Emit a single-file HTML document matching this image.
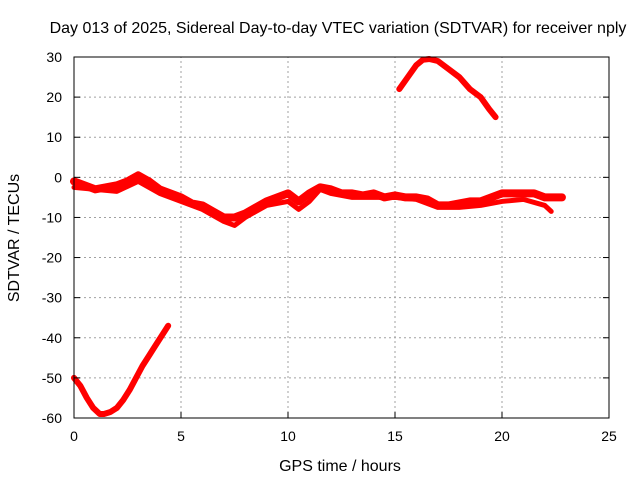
<!DOCTYPE html>
<html><head><meta charset="utf-8"><style>
body{margin:0;background:#fff}
svg text{font-family:"Liberation Sans",sans-serif;font-size:14px;fill:#000}
svg text.big{font-size:16px}
</style></head><body>
<svg id="chart" width="640" height="480" xmlns="http://www.w3.org/2000/svg">
<rect width="640" height="480" fill="#fff"/>
<g id="grid"></g><g id="series"></g><g id="axes"></g>
<text class="big" x="338" y="33" text-anchor="middle">Day 013 of 2025, Sidereal Day-to-day VTEC variation (SDTVAR) for receiver nply</text>
<text class="big" x="340" y="471" text-anchor="middle">GPS time / hours</text>
<text class="big" transform="translate(19,238) rotate(-90)" text-anchor="middle">SDTVAR / TECUs</text>
</svg>
<script>
const xTicks=[0,5,10,15,20,25];
const yTicks=[30,20,10,0,-10,-20,-30,-40,-50,-60];
const lowX=[0,0.3,0.6,0.9,1.2,1.4,1.7,2.0,2.3,2.6,2.9,3.2,3.5,3.8,4.1,4.4];
const lowY=[-50,-52,-55,-57.5,-59,-59,-58.5,-57.5,-55.5,-53,-50,-47,-44.5,-42,-39.5,-37];
const highX=[15.2,15.6,16,16.3,16.6,17,17.5,18,18.5,19,19.4,19.7];
const highY=[22,25,28,29.3,29.5,29,27,25,22,20,17,15];
const bandX=[0,0.5,1,1.5,2,2.5,3,3.5,4,4.5,5,5.5,6,6.5,7,7.5,8,8.5,9,9.5,10,10.5,11,11.5,12,12.5,13,13.5,14,14.5,15,15.5,16,16.5,17,17.5,18,18.5,19,19.5,20,20.5,21,21.5,22,22.5,22.8];
const bandY=[-1,-2,-3,-2.5,-2,-1,0.5,-1,-3,-4,-5,-6.5,-7,-8.5,-10,-10,-9,-7.5,-6,-5,-4,-6,-4,-2.5,-3,-4,-4,-4.5,-4,-5,-4.5,-5,-5,-5.5,-7,-7,-6.5,-6,-6,-5,-4,-4,-4,-4,-5,-5,-5];
const band2X=[0,1,2,3,4,5,6,7,7.5,8,9,10,10.5,11,11.5,12,13,14,15,16,17,18,19,20,21,22,22.3];
const band2Y=[-2.5,-3,-3.5,-1,-4,-6,-8,-11,-12,-10,-7,-6,-8,-6,-3,-4,-5,-5,-5,-5.5,-7.5,-7.5,-7,-6,-5.5,-7,-8.5];
const X0=74,X1=609,Y0=418,Y1=57;
const xs=v=>X0+(v/25)*(X1-X0);
const ys=v=>Y0-((v+60)/90)*(Y0-Y1);
const NS="http://www.w3.org/2000/svg";
function mk(t,a,p){const e=document.createElementNS(NS,t);for(const k in a)e.setAttribute(k,a[k]);p.appendChild(e);return e;}
const grid=document.getElementById('grid'),axes=document.getElementById('axes'),ser=document.getElementById('series');
xTicks.forEach(t=>{const x=xs(t);
 if(t>0&&t<25){const g=mk('line',{x1:x,x2:x,y1:Y0,y2:Y1,stroke:'#a0a0a0','stroke-dasharray':'2,3'},grid);
 
 }
 mk('line',{x1:x,x2:x,y1:Y0,y2:Y0-6,stroke:'#000'},axes);
 const l=mk('text',{x:x,y:Y0+23,'text-anchor':'middle'},axes);l.textContent=t;
 
 });
yTicks.forEach(t=>{const y=ys(t);
 if(t>-60&&t<30){const g=mk('line',{x1:X0,x2:X1,y1:y,y2:y,stroke:'#a0a0a0','stroke-dasharray':'2,3'},grid);
 
 }
 mk('line',{x1:X0,x2:X0+6,y1:y,y2:y,stroke:'#000'},axes);
 mk('line',{x1:X1,x2:X1-6,y1:y,y2:y,stroke:'#000'},axes);
 const l=mk('text',{x:X0-12,y:y+5,'text-anchor':'end'},axes);l.textContent=t;
 
 });
const fr=mk('rect',{x:X0,y:Y1,width:X1-X0,height:Y0-Y1,fill:'none',stroke:'#000'},axes);


function series(X,Y,name,w){
 const pts=X.map((x,i)=>xs(x)+','+ys(Y[i])).join(' ');
 const p=mk('polyline',{points:pts,fill:'none',stroke:'#f00','stroke-width':w,'stroke-linejoin':'round','stroke-linecap':'round'},ser);
 
 
}
series(lowX,lowY,'series-low-arc',6);
series(highX,highY,'series-high-arc',6);
series(band2X,band2Y,'series-band-secondary',5);
series(bandX,bandY,'series-band-main',8);
</script>
</body></html>
